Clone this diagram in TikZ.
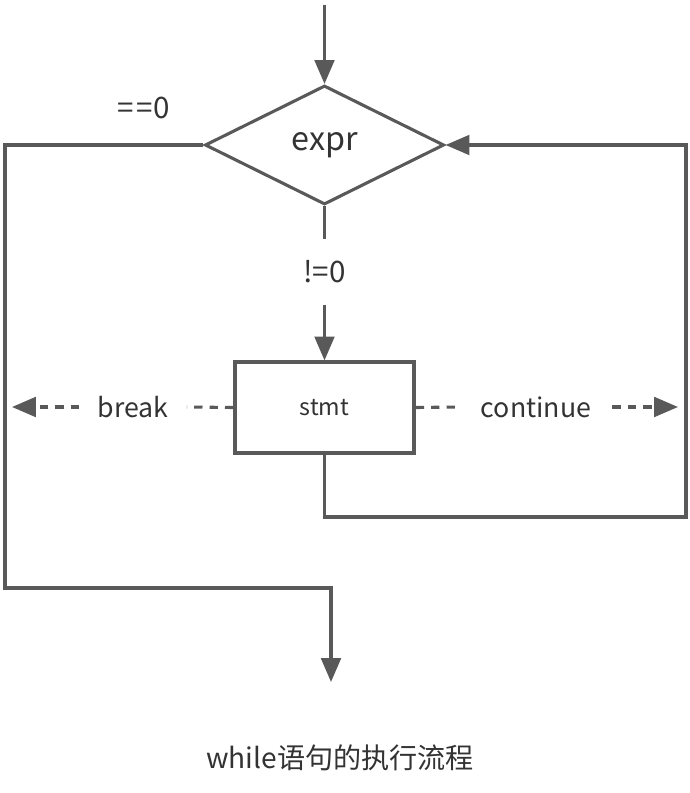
\documentclass[tikz,border=0pt]{standalone}
\usepackage{fontspec}
\setmainfont{Noto Sans CJK SC}
\usetikzlibrary{shapes.geometric,arrows.meta,positioning}
\definecolor{linegray}{HTML}{595959}
\definecolor{textgray}{HTML}{333333}

\begin{document}
\begin{tikzpicture}[
    x=0.025cm, y=-0.025cm,
    flow/.style={line width=2.2pt, draw=linegray},
    arr/.style={flow, -{Triangle[width=14pt,length=17pt]}},
    dline/.style={flow, dash pattern=on 6pt off 5pt},
    darr/.style={arr, dash pattern=on 6pt off 5pt},
    decision/.style={draw=linegray, line width=2.2pt, diamond, minimum width=5.975cm, minimum height=2.975cm, inner sep=0pt, text=textgray, font=\fontsize{23}{26}\selectfont},
    stmtbox/.style={draw=linegray, line width=2.2pt, rectangle, minimum width=4.475cm, minimum height=2.275cm, text=textgray, font=\fontsize{16.5}{19}\selectfont},
    lbl/.style={text=textgray, inner xsep=13pt, inner ysep=0pt, font=\fontsize{19}{22}\selectfont}
]
\useasboundingbox (0,0) rectangle (689,793);

% Nodes
\node[decision] (expr) at (324.5,145) {expr};
\node[stmtbox] (stmt) at (324.5,407.5) {stmt};
\node[lbl, inner xsep=0pt, inner ysep=15pt, font=\fontsize{21}{24}\selectfont] (nz) at (324.5,272) {!=0};
\node[lbl, inner xsep=0pt, font=\fontsize{21}{24}\selectfont] (ez) at (144,108) {=\kern1.5pt=\kern1pt0};
\node[lbl] (brk) at (133,407) {break};
\node[lbl, inner xsep=15pt] (cont) at (536,407) {continue};
\node[text=textgray, font=\fontsize{20}{24}\selectfont] (caption) at (340,758) {while语句的执行流程};

% Free ends
\coordinate (entry) at (324.5,5);
\coordinate (leftTop) at (5,145);
\coordinate (leftBot) at (5,588);
\coordinate (out) at (331,682);
\coordinate (loopB) at (686,517);
\coordinate (brkEnd) at (12,407);
\coordinate (contEnd) at (678,407);

% Main flow
\draw[arr] (entry) -- (expr.north);
\draw[flow] (expr.south) -- (nz.north);
\draw[arr] (nz.south) -- (stmt.north);

% Exit when expr==0
\draw[arr] (expr.west) -- (leftTop) -- (leftBot) -| (out);

% Back to the test
\draw[arr] (stmt.south) |- (loopB) |- (expr.east);

% break / continue
\draw[dline] (stmt.west) -- (brk.east);
\draw[darr] (brk.west) -- (brkEnd);
\draw[dline] (stmt.east) -- (cont.west);
\draw[darr] (cont.east) -- (contEnd);

\end{tikzpicture}
\end{document}
